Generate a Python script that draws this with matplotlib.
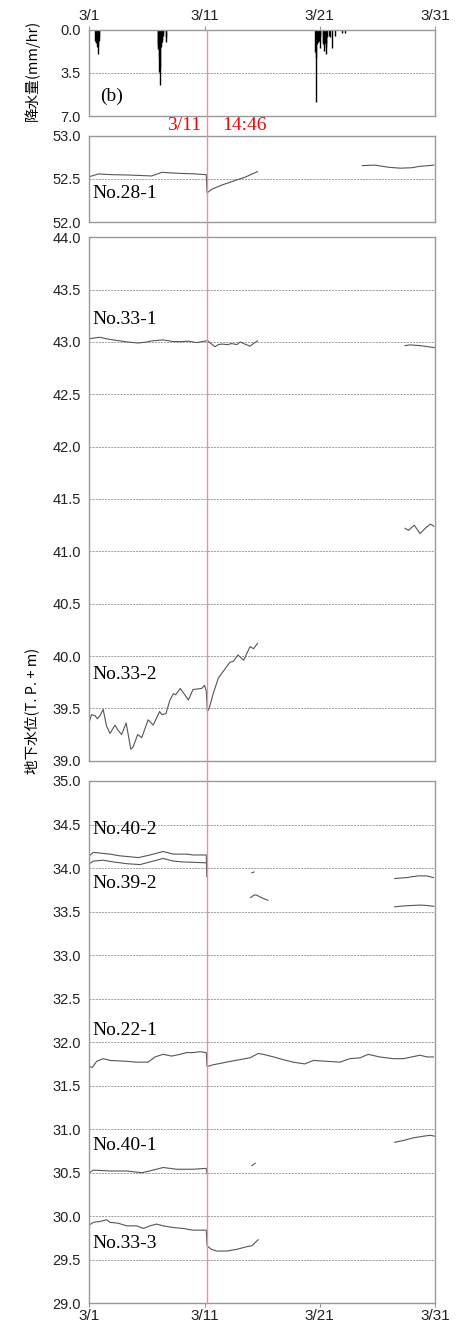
"""Rainfall and groundwater levels around 3/11 14:46 (panel b)."""

import numpy as np
import matplotlib
matplotlib.use("Agg")
import matplotlib.pyplot as plt
from matplotlib.lines import Line2D

nan = np.nan

# x axis: days after 3/1 00:00
TICK_DAYS = [0, 10, 20, 30]
TICK_LABELS = ["3/1", "3/11", "3/21", "3/31"]
QUAKE_DAY = 10.19

# hourly rainfall (mm/hr)
rain_day = [0.52, 0.57, 0.62, 0.67, 0.72, 0.77, 0.82, 0.87,
            5.92, 5.96, 6.00, 6.04, 6.08, 6.12, 6.16, 6.20, 6.24, 6.28, 6.32, 6.36, 6.40,
            6.62, 6.66,
            19.62, 19.66, 19.70, 19.74, 19.78, 19.82, 19.86, 19.90, 19.94, 19.98, 20.02, 20.06,
            20.26, 20.30, 20.34, 20.38, 20.42, 20.46, 20.50, 20.54, 20.58, 20.62,
            20.78, 20.86, 21.10, 21.30, 21.90, 22.20]
rain_mm = [0.9, 1.0, 1.1, 1.4, 1.3, 2.0, 0.9, 0.6,
           1.2, 1.4, 1.6, 2.2, 3.4, 4.5, 3.0, 1.4, 1.2, 1.0, 0.8, 0.5, 0.3,
           1.0, 0.6,
           1.8, 2.3, 5.9, 1.2, 1.0, 1.0, 1.0, 0.9, 0.7, 1.5, 0.6, 0.4,
           1.0, 1.2, 1.7, 1.1, 1.1, 1.0, 1.4, 2.0, 1.1, 0.6,
           0.5, 0.6, 1.5, 0.5, 0.3, 0.3]

# groundwater level (T.P.+m); nan breaks the line where data are missing
w28_1_day = [0, 0.8, 2.0, 3.4, 4.5, 5.4, 6.3, 7.5, 9.0, 10.15, 10.22, 10.6, 11.5, 12.6, 13.5, 14.6,
             nan, 23.7, 24.8, 26.0, 27.0, 28.0, 28.6, 29.9]
w28_1 = [52.527, 52.558, 52.55, 52.546, 52.54, 52.535, 52.577, 52.567, 52.56, 52.55,
         52.34, 52.38, 52.43, 52.48, 52.52, 52.585,
         nan, 52.655, 52.66, 52.635, 52.625, 52.63, 52.645, 52.66]

w33_1_day = [0, 0.5, 0.93, 1.5, 2.5, 3.3, 4.25, 5.0, 5.4, 6.4, 7.2, 8.0, 8.6, 9.3, 10.15,
             10.3, 10.5, 10.9, 11.2, 11.5, 12.0, 12.35, 12.8, 13.1, 13.5, 13.95, 14.3, 14.6,
             nan, 27.4, 27.8, 28.1, 28.7, 29.2, 29.7, 29.95]
w33_1 = [43.03, 43.04, 43.045, 43.03, 43.013, 43.0, 42.99, 43.0, 43.01, 43.02, 43.005,
         43.003, 43.008, 42.994, 43.01,
         43.01, 42.99, 42.955, 42.975, 42.98, 42.975, 42.985, 42.975, 43.0, 42.98, 42.96,
         42.99, 43.01,
         nan, 42.965, 42.972, 42.97, 42.965, 42.958, 42.95, 42.947]

w33_2_day = [0, 0.2, 0.5, 0.7, 0.93, 1.2, 1.5, 1.8, 2.23, 2.5, 2.8, 3.2, 3.6, 3.8, 4.2, 4.55,
             5.1, 5.55, 6.1, 6.3, 6.65, 7.0, 7.3, 7.5, 7.9, 8.6, 9.0, 9.75, 10.0, 10.15,
             10.25, 10.4, 10.75, 11.2, 11.6, 12.2, 12.5, 12.9, 13.4, 13.95, 14.25, 14.6,
             nan, 27.4, 27.7, 28.2, 28.7, 29.15, 29.6, 29.9]
w33_2 = [39.374, 39.44, 39.43, 39.40, 39.43, 39.49, 39.33, 39.26, 39.34, 39.29, 39.25,
         39.36, 39.11, 39.13, 39.25, 39.22, 39.39, 39.34, 39.47, 39.44, 39.45, 39.58,
         39.64, 39.63, 39.69, 39.58, 39.68, 39.69, 39.72, 39.67,
         39.47, 39.50, 39.64, 39.79, 39.85, 39.94, 39.95, 40.01, 39.96, 40.09, 40.07, 40.12,
         nan, 41.22, 41.20, 41.25, 41.17, 41.22, 41.26, 41.24]

w40_2_day = [0, 0.35, 1.07, 1.8, 2.67, 3.5, 4.25, 5.27, 6.4, 7.3, 8.45, 9.0, 10.15, 10.2,
             nan, 14.1, 14.3,
             nan, 26.5, 27.0, 27.55, 28.0, 28.55, 29.3, 29.86]
w40_2 = [34.14, 34.18, 34.17, 34.16, 34.14, 34.13, 34.12, 34.15, 34.19, 34.16, 34.16,
         34.15, 34.15, 33.90,
         nan, 33.945, 33.955,
         nan, 33.88, 33.885, 33.89, 33.90, 33.91, 33.91, 33.89]

w39_2_day = [0, 0.35, 1.2, 2.1, 3.25, 4.4, 5.55, 6.4, 7.3, 8.15, 9.2, 10.15, 10.22,
             nan, 14.0, 14.3, 14.5, 14.8, 15.1, 15.5,
             nan, 26.5, 27.3, 28.0, 28.7, 29.3, 29.9]
w39_2 = [34.05, 34.08, 34.09, 34.07, 34.05, 34.04, 34.08, 34.11, 34.08, 34.07, 34.065,
         34.06, 34.0,
         nan, 33.66, 33.69, 33.69, 33.67, 33.65, 33.63,
         nan, 33.555, 33.565, 33.57, 33.575, 33.57, 33.56]

w22_1_day = [0, 0.26, 0.64, 1.2, 1.8, 3.25, 4.1, 5.1, 5.7, 6.4, 7.15, 7.87, 8.45, 9.0, 9.6,
             10.15, 10.22, 10.75, 11.9, 13.1, 13.95, 14.65, 15.1, 16.0, 16.8, 17.7, 18.7,
             19.45, 20.6, 21.75, 22.6, 23.5, 24.2, 25.2, 26.4, 27.25, 28.7, 29.3, 29.86]
w22_1 = [31.72, 31.71, 31.78, 31.81, 31.79, 31.78, 31.77, 31.77, 31.83, 31.86, 31.84,
         31.86, 31.88, 31.88, 31.89, 31.88, 31.72, 31.74, 31.77, 31.80, 31.82, 31.87,
         31.86, 31.83, 31.80, 31.77, 31.75, 31.79, 31.78, 31.77, 31.81, 31.82, 31.86,
         31.83, 31.81, 31.81, 31.85, 31.83, 31.83]

w40_1_day = [0, 0.35, 1.8, 3.25, 4.55, 5.55, 6.4, 7.6, 9.0, 10.15, 10.22,
             nan, 14.1, 14.4,
             nan, 26.5, 27.25, 28.1, 29.0, 29.6, 29.95]
w40_1 = [30.50, 30.53, 30.52, 30.52, 30.50, 30.53, 30.56, 30.54, 30.54, 30.55, 30.49,
         nan, 30.58, 30.61,
         nan, 30.85, 30.87, 30.90, 30.92, 30.93, 30.92]

w33_3_day = [0, 0.35, 0.93, 1.5, 1.8, 2.5, 3.25, 4.1, 4.7, 5.27, 5.85, 6.4, 7.3, 8.15,
             9.0, 10.15, 10.22, 10.6, 11.05, 11.9, 12.8, 13.65, 14.1, 14.65]
w33_3 = [29.90, 29.93, 29.94, 29.96, 29.93, 29.92, 29.89, 29.89, 29.86, 29.89, 29.91,
         29.89, 29.87, 29.86, 29.84, 29.84, 29.66, 29.62, 29.60, 29.60, 29.62, 29.65,
         29.66, 29.73]

# (name, days, levels, label y) for each panel
PANEL_28 = [("No.28-1", w28_1_day, w28_1, 52.33)]
PANEL_33 = [("No.33-1", w33_1_day, w33_1, 43.21),
            ("No.33-2", w33_2_day, w33_2, 39.82)]
PANEL_LOW = [("No.40-2", w40_2_day, w40_2, 34.44),
             ("No.39-2", w39_2_day, w39_2, 33.82),
             ("No.22-1", w22_1_day, w22_1, 32.13),
             ("No.40-1", w40_1_day, w40_1, 30.81),
             ("No.33-3", w33_3_day, w33_3, 29.69)]

SERIF = ["Liberation Serif", "DejaVu Serif"]
SANS = ["Liberation Sans", "DejaVu Sans"]
JP = ["Noto Sans CJK JP", "DejaVu Sans"]
FRAME = "#999999"
LINE = "#555555"
RED = "#ff8a8a"

W, H = 471, 1327


def frac(left, top, right, bottom):
    return [left / W, 1 - bottom / H, (right - left) / W, (bottom - top) / H]


def style(ax, ylo, yhi, step):
    ax.set_xlim(0, 30)
    ax.set_ylim(ylo, yhi)
    ax.set_yticks(np.arange(ylo, yhi + step / 2, step))
    ax.yaxis.set_major_formatter(matplotlib.ticker.FormatStrFormatter("%.1f"))
    ax.tick_params(axis="y", length=0, pad=6, labelsize=10.5, labelcolor="#222222")
    for lab in ax.get_yticklabels():
        lab.set_family(SANS)
    for sp in ax.spines.values():
        sp.set_color(FRAME)
        sp.set_linewidth(1)
    ax.yaxis.grid(True, color="#9a9a9a", lw=0.7, ls=(0, (2, 1.2)))
    ax.set_axisbelow(True)
    ax.set_xticks(TICK_DAYS)
    ax.tick_params(axis="x", length=0, labelbottom=False)


def series(ax, items):
    for name, days, levels, label_y in items:
        ax.plot(days, levels, color=LINE, lw=0.8)
        ax.text(0.25, label_y, name, ha="left", va="center", fontsize=14, family=SERIF)


def main():
    fig = plt.figure(figsize=(W / 100, H / 100), dpi=100)

    ax_rain = fig.add_axes(frac(89.3, 29.7, 435, 116))
    ax_28 = fig.add_axes(frac(89.3, 135.7, 435, 222.3))
    ax_33 = fig.add_axes(frac(89.3, 237.3, 435, 760.7))
    ax_low = fig.add_axes(frac(89.3, 781, 435, 1303.3))

    # rainfall, hanging down from the top
    style(ax_rain, 0, 7, 3.5)
    ax_rain.set_ylim(7, 0)
    ax_rain.vlines(rain_day, 0, rain_mm, color="black", lw=1)
    ax_rain.xaxis.tick_top()
    ax_rain.set_xticklabels(TICK_LABELS)
    ax_rain.tick_params(axis="x", top=True, labeltop=True, length=3, color=FRAME,
                        pad=2, labelsize=11, labelcolor="#222222")
    for lab in ax_rain.get_xticklabels():
        lab.set_family(SANS)
    ax_rain.text(0.93, 5.4, "(b)", ha="left", va="center", fontsize=14, family=SERIF)

    style(ax_28, 52.0, 53.0, 0.5)
    series(ax_28, PANEL_28)

    style(ax_33, 39.0, 44.0, 0.5)
    series(ax_33, PANEL_33)

    style(ax_low, 29.0, 35.0, 0.5)
    series(ax_low, PANEL_LOW)
    ax_low.set_xticklabels(TICK_LABELS)
    ax_low.tick_params(axis="x", bottom=True, labelbottom=True, length=3, color=FRAME,
                       pad=1, labelsize=11, labelcolor="#222222")
    for lab in ax_low.get_xticklabels():
        lab.set_family(SANS)

    # earthquake marker running through every panel
    fx = fig.transFigure.inverted().transform(ax_low.transData.transform((QUAKE_DAY, 29.0)))[0]
    fig.add_artist(Line2D([fx, fx], [1 - 1303.3 / H, 1 - 29.7 / H], transform=fig.transFigure,
                          color=RED, lw=1, zorder=5))
    fig.text(fx - 6 / W, 1 - 125 / H, "3/11", color="red", ha="right", va="center",
             fontsize=14, family=SERIF)
    fig.text(fx + 15 / W, 1 - 125 / H, "14:46", color="red", ha="left", va="center",
             fontsize=14, family=SERIF)

    fig.text(32 / W, 1 - 70 / H, "降水量(mm/hr)", rotation=90, ha="center", va="center",
             fontsize=10.5, family=JP)
    fig.text(32 / W, 1 - 711 / H, "地下水位(T. P. + m)", rotation=90, ha="center",
             va="center", fontsize=10.5, family=JP)

    fig.savefig("out.png", dpi=100)


if __name__ == "__main__":
    main()
